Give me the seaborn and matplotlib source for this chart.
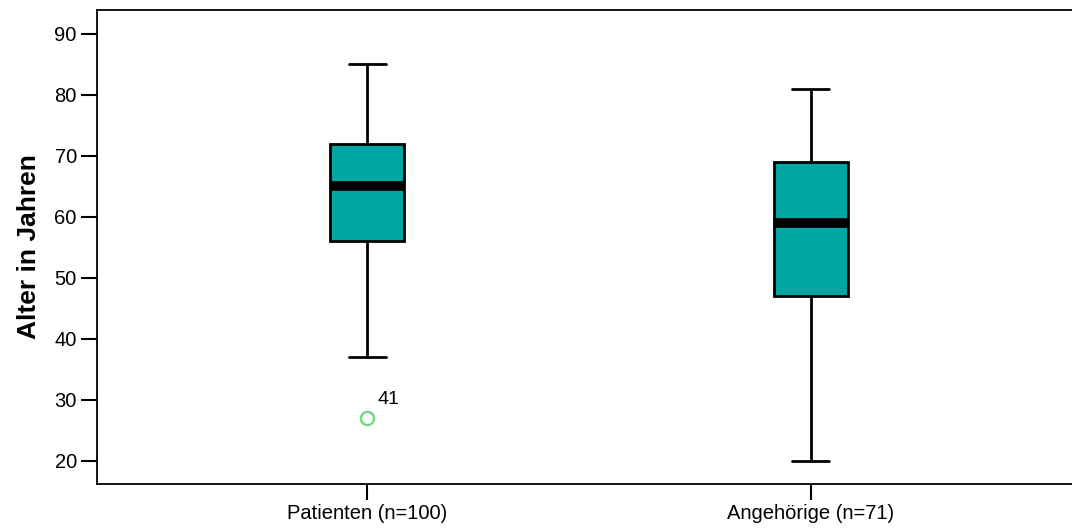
import numpy as np
import pandas as pd
import matplotlib
matplotlib.use("Agg")
import matplotlib.pyplot as plt
import seaborn as sns

# --- values ---
groups = ["Patienten (n=100)", "Angehörige (n=71)"]
whisker_low = [37, 20]
q1 = [56, 47]
median = [65, 59]
q3 = [72, 69]
whisker_high = [85, 81]
outliers = [[27], []]
outlier_labels = [["41"], []]

y_ticks = [20, 30, 40, 50, 60, 70, 80, 90]

# build a small sample per group whose box statistics match the summary above
rows = []
for i, g in enumerate(groups):
    sample = (outliers[i] + [whisker_low[i]] + [q1[i]] * 2 + [median[i]]
              + [q3[i]] * 2 + [whisker_high[i]] * (1 + len(outliers[i])))
    for v in sample:
        rows.append({"Gruppe": g, "Alter": v})
df = pd.DataFrame(rows)

sns.set_style("white")
plt.rcParams["font.family"] = ["Liberation Sans", "DejaVu Sans"]

fig = plt.figure(figsize=(10.72, 5.30), dpi=100)
ax = fig.add_axes([97 / 1072, 46 / 530, 975 / 1072, 474 / 530])

sns.boxplot(
    data=df, x="Gruppe", y="Alter", ax=ax,
    order=groups,
    color="#00a6a2", saturation=1, width=0.167,
    linewidth=2, linecolor="black",
    boxprops={"edgecolor": "black", "linewidth": 2},
    whiskerprops={"color": "black", "linewidth": 2},
    capprops={"color": "black", "linewidth": 2},
    medianprops={"color": "black", "linewidth": 7},
    flierprops={"marker": "o", "markerfacecolor": "none",
                "markeredgecolor": "#6fd882", "markeredgewidth": 1.7,
                "markersize": 9.5},
)

# case number next to the outlier
for i, g in enumerate(groups):
    for v, lab in zip(outliers[i], outlier_labels[i]):
        ax.annotate(lab, xy=(i, v), xytext=(7, 7), textcoords="offset points",
                    fontsize=14, color="black", ha="left", va="bottom")

ax.set_xlim(-0.61, 1.59)
ax.set_ylim(16.2, 93.9)
ax.set_yticks(y_ticks)
ax.set_xlabel("")
ax.set_ylabel("Alter in Jahren", fontsize=19, fontweight="bold",
              color="black", labelpad=10)

for side in ["left", "bottom", "top"]:
    ax.spines[side].set_color("black")
    ax.spines[side].set_linewidth(1.3)
ax.spines["right"].set_visible(False)
ax.tick_params(axis="both", direction="out", length=11.5, width=1.5,
               labelsize=14.5, colors="black", pad=3,
               bottom=True, left=True)

plt.savefig("out.png", dpi=100)
